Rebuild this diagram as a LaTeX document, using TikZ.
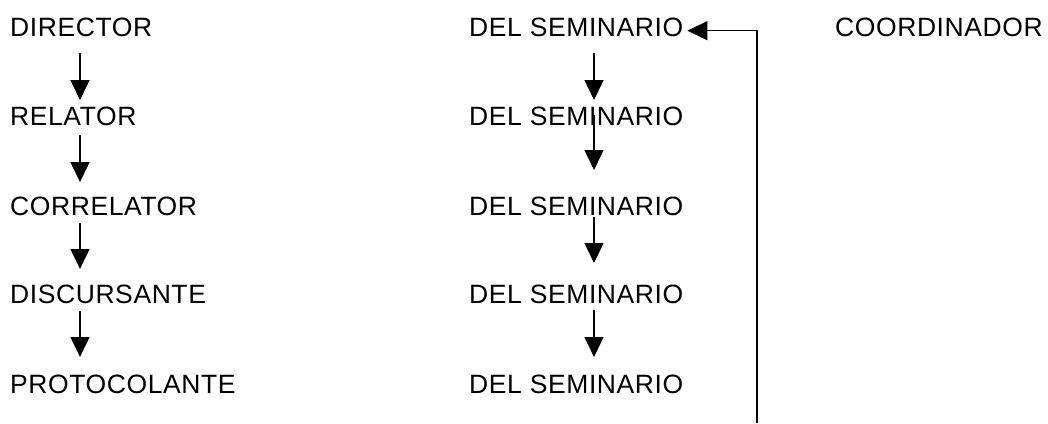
\documentclass[tikz,border=0pt]{standalone}
\usepackage{fontspec}
\setmainfont{Liberation Sans}[LetterSpace=2.2]
\usetikzlibrary{arrows.meta,calc}
\begin{document}
\begin{tikzpicture}[x=1pt,y=-1pt,
  lbl/.style={anchor=west,inner sep=0pt,font=\fontsize{26.5}{32}\selectfont},
  arr/.style={line width=1.5pt,-{Triangle[width=19pt,length=20pt]}}]
\useasboundingbox (0,0) rectangle (1048,423);
% left column
\node[lbl] (l1) at (10,27) {DIRECTOR};
\node[lbl] (l2) at (10,116.5) {RELATOR};
\node[lbl] (l3) at (10,206) {CORRELATOR};
\node[lbl] (l4) at (10,294.5) {DISCURSANTE};
\node[lbl] (l5) at (10,384) {PROTOCOLANTE};
% middle column
\node[lbl] (m1) at (469,27) {DEL SEMINARIO};
\node[lbl] (m2) at (469,116.5) {DEL SEMINARIO};
\node[lbl] (m3) at (469,206) {DEL SEMINARIO};
\node[lbl] (m4) at (469,294.5) {DEL SEMINARIO};
\node[lbl] (m5) at (469,384) {DEL SEMINARIO};
% right
\node[lbl] (c1) at (835,27) {COORDINADOR};
% axes
\coordinate (axL) at (80,0);
\coordinate (axM) at (594,0);
\coordinate (fb) at (757,423);
% left arrows
\draw[arr] ($(l1.center -| axL)+(0,26)$) -- ($(l2.center -| axL)+(0,-16.5)$);
\draw[arr] ($(l2.center -| axL)+(0,18.5)$) -- ($(l3.center -| axL)+(0,-24)$);
\draw[arr] ($(l3.center -| axL)+(0,17)$) -- ($(l4.center -| axL)+(0,-25.5)$);
\draw[arr] ($(l4.center -| axL)+(0,16.5)$) -- ($(l5.center -| axL)+(0,-27)$);
% middle arrows
\draw[arr] ($(m1.center -| axM)+(0,26)$) -- ($(m2.center -| axM)+(0,-16.5)$);
\draw[arr] ($(m2.center -| axM)+(0,-1.5)$) -- ($(m3.center -| axM)+(0,-36)$);
\draw[arr] ($(m3.center -| axM)+(0,11)$) -- ($(m4.center -| axM)+(0,-31.5)$);
\draw[arr] ($(m4.center -| axM)+(0,15.5)$) -- ($(m5.center -| axM)+(0,-27)$);
% feedback
\draw[arr] (fb) |- ($(m1.east)+(4,3.7)$);
\end{tikzpicture}
\end{document}
